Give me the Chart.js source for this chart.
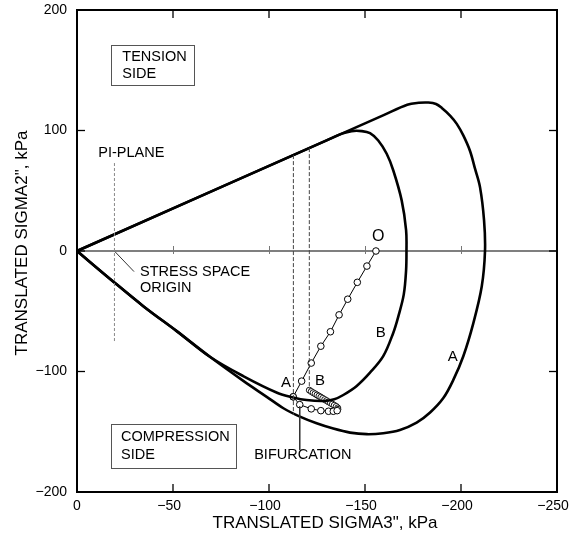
<!DOCTYPE html>
<html><head><meta charset="utf-8">
<script src="https://cdn.jsdelivr.net/npm/chart.js@4/dist/chart.umd.min.js"></script>
<style>html,body{margin:0;padding:0;background:#fff}</style>
</head><body>
<canvas id="c" width="569" height="540"></canvas>
<script>
// ---- data ----
const xTicks = [0, -50, -100, -150, -200, -250];
const yTicks = [200, 100, 0, -100, -200];
const xTitle = 'TRANSLATED SIGMA3", kPa';
const yTitle = 'TRANSLATED SIGMA2", kPa';

// yield surface A (outer)
const curveA = [
  {x:0,y:0},{x:-17.4,y:-23.4},{x:-34.7,y:-46},{x:-52.1,y:-66.7},{x:-69.4,y:-88},
  {x:-86.8,y:-108},{x:-98.8,y:-121},{x:-107.5,y:-130.5},{x:-116.1,y:-137.5},
  {x:-124.8,y:-143},{x:-133.5,y:-147.4},{x:-142.2,y:-150.7},{x:-150.9,y:-152},
  {x:-159.5,y:-151.2},{x:-168.2,y:-148.5},{x:-176.9,y:-142.4},{x:-183.9,y:-134},
  {x:-190.8,y:-122},{x:-196,y:-107},{x:-201.2,y:-87.3},{x:-206.4,y:-60},
  {x:-210.8,y:-29.5},{x:-212.5,y:0},{x:-212,y:25.6},{x:-209.9,y:53},
  {x:-207.3,y:68.3},{x:-204.7,y:83},{x:-201.2,y:95.9},{x:-197.8,y:105.5},
  {x:-194.3,y:112.4},{x:-190,y:118.7},{x:-187,y:122},{x:-183,y:123.2},
  {x:-178,y:123},{x:-172,y:121.4},{x:-160,y:113},{x:0,y:0}
];
// yield surface B (inner)
const curveB = [
  {x:0,y:0},{x:-17.4,y:-23.4},{x:-34.7,y:-46},{x:-52.1,y:-66.7},{x:-69.4,y:-88},
  {x:-86.8,y:-104},{x:-104.2,y:-117.6},{x:-112.6,y:-121.5},{x:-119.6,y:-123.7},
  {x:-128.3,y:-124.5},{x:-134,y:-123},{x:-138.7,y:-119.5},{x:-145.7,y:-112},
  {x:-152.6,y:-101},{x:-159.5,y:-87.3},{x:-164.7,y:-68},{x:-167.4,y:-54},
  {x:-170.2,y:-36},{x:-171.4,y:-16},{x:-171.6,y:0},{x:-171.4,y:17.4},
  {x:-169.1,y:42},{x:-164.7,y:67},{x:-161.3,y:80.7},{x:-156.9,y:91.7},
  {x:-152.6,y:97.8},{x:-148.3,y:99.5},{x:-143,y:99.5},{x:-138,y:97.4},
  {x:-130,y:91.8},{x:0,y:0}
];
// stress path O -> bifurcation
const pathMain = [
  {x:-155.7,y:0},{x:-151,y:-12.5},{x:-146,y:-26},{x:-141,y:-40},{x:-136.5,y:-53},
  {x:-132,y:-67},{x:-127,y:-79},{x:-122,y:-93},{x:-117,y:-108},{x:-112.6,y:-121}
];
// path A after bifurcation
const pathA = [
  {x:-112.6,y:-121},{x:-116,y:-127.5},{x:-122,y:-131},{x:-127,y:-132.5},
  {x:-131,y:-133},{x:-133.5,y:-133},{x:-135.5,y:-132.5}
];
// path B (dense points)
const pathB = [
  {x:-121,y:-115.5},{x:-122,y:-116.6},{x:-123,y:-117.6},{x:-124,y:-118.5},
  {x:-125,y:-119.5},{x:-126,y:-120.4},{x:-127,y:-121.3},{x:-128,y:-122.3},
  {x:-129,y:-123.3},{x:-130,y:-124.2},{x:-131,y:-125.2},{x:-132,y:-126.1},
  {x:-133,y:-127.1},{x:-134,y:-128},{x:-135,y:-129},{x:-135.8,y:-130.2},
  {x:-135.9,y:-131.4}
];
const piPlaneLine = [{x:-19.5,y:73},{x:-19.5,y:-75}];
const dashLineA = [{x:-112.7,y:79.6},{x:-112.7,y:-136}];
const dashLineB = [{x:-121,y:85.4},{x:-121,y:-115}];
const bifurcationLine = [{x:-116,y:-129},{x:-116,y:-165}];
const originLeader = [{x:-19.8,y:-0.6},{x:-29.7,y:-17.1}];

// annotation texts (data coordinates)
const labels = [
  {t:'PI-PLANE', x:-11.1, y:81.2, align:'left'},
  {t:'STRESS SPACE', x:-32.8, y:-17.4, align:'left'},
  {t:'ORIGIN', x:-32.8, y:-30.8, align:'left'},
  {t:'TENSION', x:-23.6, y:160.9, align:'left'},
  {t:'SIDE', x:-23.6, y:147.3, align:'left'},
  {t:'COMPRESSION', x:-22.9, y:-154.5, align:'left'},
  {t:'SIDE', x:-22.9, y:-169.4, align:'left'},
  {t:'BIFURCATION', x:-117.6, y:-169.4, align:'center'},
  {t:'O', x:-156.9, y:11.8, align:'center', size:16},
  {t:'B', x:-158.2, y:-68, align:'center', size:15},
  {t:'A', x:-195.7, y:-87.9, align:'center', size:15},
  {t:'A', x:-108.9, y:-109.4, align:'center', size:15},
  {t:'B', x:-126.6, y:-108, align:'center', size:15}
];
const boxes = [
  {x1:-17.7, y1:171.1, x2:-61.1, y2:138},
  {x1:-17.7, y1:-143.8, x2:-82.8, y2:-180.2}
];

const FONT = "'Liberation Sans', Arial, Helvetica, sans-serif";
const fmtY = v => v < 0 ? '\u2212' + Math.abs(v) : String(v);
// digits centred on the tick, minus sign hanging to the left
const fmtX = v => v < 0 ? '\u2212' + Math.abs(v) + '  ' : String(v);

function lineDs(data, opts) {
  return Object.assign({data, showLine:true, pointRadius:0, borderColor:'#000',
    borderWidth:1, tension:0, fill:false}, opts || {});
}

const decor = {
  id:'decor',
  beforeDatasetsDraw(chart) {
    const {ctx, chartArea:a, scales:{x, y}} = chart;
    ctx.save();
    const y0 = y.getPixelForValue(0);
    ctx.strokeStyle = '#000'; ctx.lineWidth = 1.2;
    ctx.beginPath(); ctx.moveTo(a.left, y0); ctx.lineTo(a.right, y0); ctx.stroke();
    ctx.strokeStyle = '#777'; ctx.lineWidth = 1;
    xTicks.forEach(v => {
      if (v === 0 || v === -250) return;
      const px = Math.round(x.getPixelForValue(v)) + 0.5;
      ctx.beginPath(); ctx.moveTo(px, y0 - 5); ctx.lineTo(px, y0 + 3); ctx.stroke();
    });
    ctx.restore();
  },
  afterDatasetsDraw(chart) {
    const {ctx, chartArea:a, scales:{x, y}} = chart;
    ctx.save();
    // frame
    ctx.strokeStyle = '#000'; ctx.lineWidth = 2;
    ctx.strokeRect(a.left, a.top, a.right - a.left, a.bottom - a.top);
    // inward ticks
    ctx.lineWidth = 1.3;
    const L = 8;
    xTicks.forEach(v => {
      const px = x.getPixelForValue(v);
      ctx.beginPath(); ctx.moveTo(px, a.bottom); ctx.lineTo(px, a.bottom - L); ctx.stroke();
      ctx.beginPath(); ctx.moveTo(px, a.top); ctx.lineTo(px, a.top + L); ctx.stroke();
    });
    yTicks.forEach(v => {
      const py = y.getPixelForValue(v);
      ctx.beginPath(); ctx.moveTo(a.left, py); ctx.lineTo(a.left + L, py); ctx.stroke();
      ctx.beginPath(); ctx.moveTo(a.right, py); ctx.lineTo(a.right - L, py); ctx.stroke();
    });
    // boxes
    ctx.strokeStyle = '#555'; ctx.lineWidth = 1;
    boxes.forEach(b => {
      const x1 = x.getPixelForValue(b.x1), x2 = x.getPixelForValue(b.x2);
      const y1 = y.getPixelForValue(b.y1), y2 = y.getPixelForValue(b.y2);
      ctx.strokeRect(Math.round(x1) + 0.5, Math.round(y1) + 0.5, Math.round(x2 - x1), Math.round(y2 - y1));
    });
    // labels
    ctx.fillStyle = '#000';
    ctx.textBaseline = 'middle';
    labels.forEach(l => {
      ctx.font = (l.size || 14.5) + 'px ' + FONT;
      ctx.textAlign = l.align;
      ctx.fillText(l.t, x.getPixelForValue(l.x), y.getPixelForValue(l.y));
    });
    // axis titles
    ctx.font = '17px ' + FONT;
    ctx.textAlign = 'center';
    ctx.fillText(xTitle, (a.left + a.right) / 2 + 8, 523);
    ctx.save();
    ctx.translate(22, (a.top + a.bottom) / 2 - 8);
    ctx.rotate(-Math.PI / 2);
    ctx.fillText(yTitle, 0, 0);
    ctx.restore();
    ctx.restore();
  }
};

new Chart(document.getElementById('c'), {
  type:'scatter',
  data:{datasets:[
    lineDs(piPlaneLine, {borderColor:'#888', borderWidth:1, borderDash:[3,2]}),
    lineDs(dashLineA, {borderColor:'#444', borderWidth:1, borderDash:[4,2]}),
    lineDs(dashLineB, {borderColor:'#444', borderWidth:1, borderDash:[4,2]}),
    lineDs(bifurcationLine, {borderColor:'#333', borderWidth:1}),
    lineDs(originLeader, {borderColor:'#333', borderWidth:1}),
    lineDs(curveA, {borderWidth:2.6, tension:0.35}),
    lineDs(curveB, {borderWidth:2.6, tension:0.35}),
    lineDs(pathMain, {borderWidth:1, pointRadius:3.3, pointBackgroundColor:'#fff', pointBorderColor:'#000', pointBorderWidth:1}),
    lineDs(pathA, {borderWidth:1, pointRadius:3.3, pointBackgroundColor:'#fff', pointBorderColor:'#000', pointBorderWidth:1}),
    lineDs(pathB, {borderWidth:1, pointRadius:3, pointBackgroundColor:'#fff', pointBorderColor:'#000', pointBorderWidth:0.9})
  ]},
  options:{
    responsive:false, animation:false,
    layout:{padding:{top:10, right:12, left:0, bottom:0}},
    plugins:{legend:{display:false}, tooltip:{enabled:false}},
    scales:{
      x:{type:'linear', min:-250, max:0, reverse:true,
        afterBuildTicks: s => { s.ticks = xTicks.map(v => ({value:v})); },
        afterFit: s => { s.height = 48; s.paddingLeft = 0; s.paddingRight = 0; },
        grid:{display:false, drawTicks:false}, border:{display:false},
        ticks:{callback:fmtX, color:'#000', padding:6, maxRotation:0, autoSkip:false,
          font:{family:FONT, size:14}}},
      y:{type:'linear', min:-200, max:200,
        afterBuildTicks: s => { s.ticks = yTicks.map(v => ({value:v})); },
        afterFit: s => { s.width = 77; s.paddingTop = 0; s.paddingBottom = 0; },
        grid:{display:false, drawTicks:false}, border:{display:false},
        ticks:{callback:fmtY, color:'#000', padding:10, autoSkip:false,
          font:{family:FONT, size:14}}}
    }
  },
  plugins:[decor]
});
</script>
</body></html>
